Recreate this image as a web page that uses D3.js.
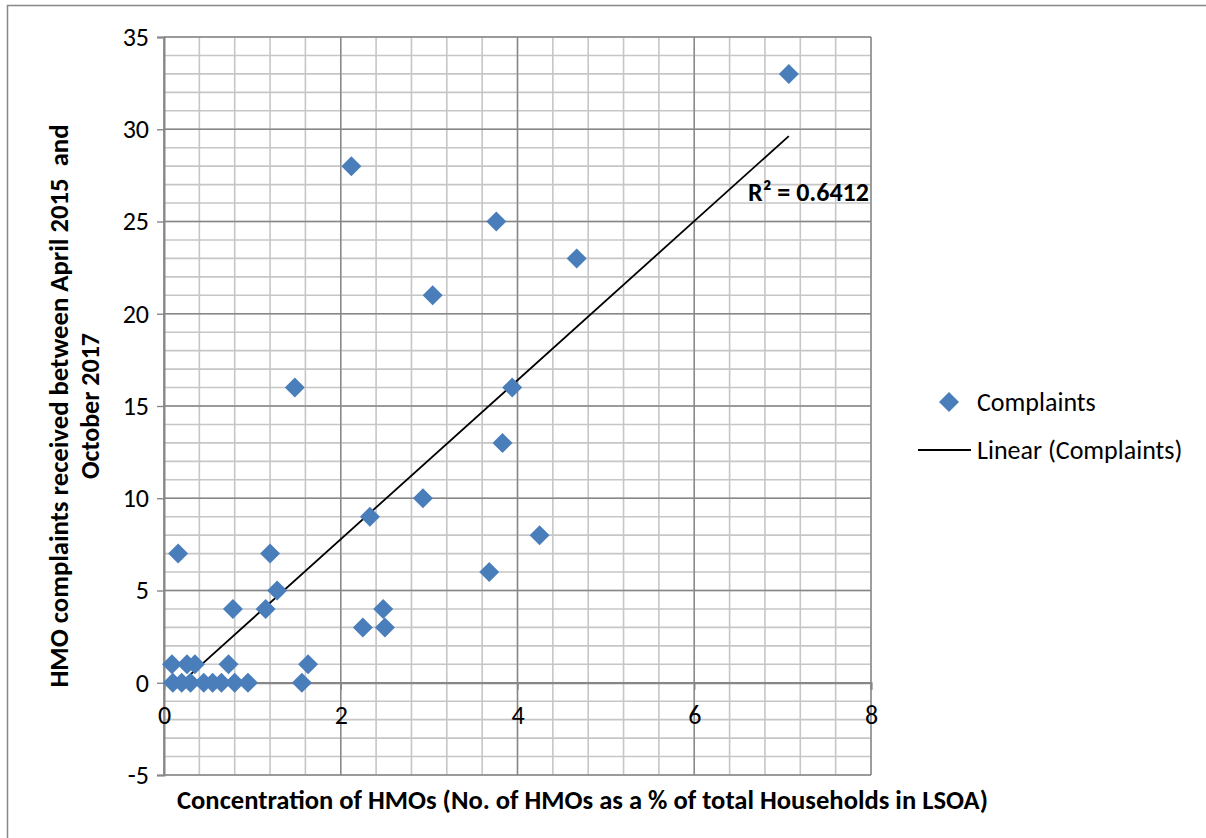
<!DOCTYPE html>
<html>
<head>
<meta charset="utf-8">
<script src="https://cdn.jsdelivr.net/npm/d3@7"></script>
<style>
  body { margin: 0; background: #fff; }
  text { font-family: Carlito, Calibri, "Open Sans", sans-serif; fill: #000; }
</style>
</head>
<body>
<svg id="chart" width="1206" height="838"></svg>
<script>
// share of HMOs in LSOA (%) and complaints received
var hmoShare = [7.07, 2.12, 3.76, 4.67, 3.04, 1.48, 3.94, 3.83, 2.93, 2.33,
  4.25, 0.16, 1.20, 3.68, 1.28, 0.78, 1.15, 2.48, 2.25, 2.50,
  0.09, 0.26, 0.35, 0.73, 1.63,
  0.10, 0.20, 0.30, 0.45, 0.55, 0.65, 0.80, 0.95, 1.56]
var complaints = [33, 28, 25, 23, 21, 16, 16, 13, 10, 9,
  8, 7, 7, 6, 5, 4, 4, 4, 3, 3,
  1, 1, 1, 1, 1,
  0, 0, 0, 0, 0, 0, 0, 0, 0]

// linear trendline as Excel drew it
var trendSlope = 4.31
var trendIntercept = -0.84
var rSquaredLabel = "R² = 0.6412"

var xTicks = [0, 2, 4, 6, 8]
var yTicks = [-5, 0, 5, 10, 15, 20, 25, 30, 35]
var seriesName = "Complaints"
var trendName = "Linear (Complaints)"
var xTitle = "Concentration of HMOs (No. of HMOs as a % of total Households in LSOA)"
var yTitle = ["HMO complaints received between April 2015  and", "October 2017"]

var svg = d3.select("#chart")
var plotL = 164, plotR = 871, plotT = 37, plotB = 775
var fs = 26
var plainNum = function (d) { return String(d) } // keep "-5" with a hyphen like Excel

var x = d3.scaleLinear().domain([0, 8]).range([plotL, plotR])
var y = d3.scaleLinear().domain([-5, 35]).range([plotB, plotT])

// outer chart border (runs off the right/bottom edge like the original)
svg.append("rect")
  .attr("x", 7.5).attr("y", 5.5)
  .attr("width", 1230).attr("height", 860)
  .attr("fill", "none").attr("stroke", "#878787").attr("stroke-width", 1.5)

// minor grid
var grid = svg.append("g")
grid.selectAll(".vMinor").data(d3.range(0, 8.001, 0.4))
  .enter().append("line")
  .attr("x1", function (d) { return x(d) }).attr("x2", function (d) { return x(d) })
  .attr("y1", plotT).attr("y2", plotB)
  .attr("stroke", "#c6c6c6").attr("stroke-width", 1.6)
grid.selectAll(".hMinor").data(d3.range(-5, 35.001, 1))
  .enter().append("line")
  .attr("x1", plotL).attr("x2", plotR)
  .attr("y1", function (d) { return y(d) }).attr("y2", function (d) { return y(d) })
  .attr("stroke", "#c6c6c6").attr("stroke-width", 1.6)

// major grid
grid.selectAll(".vMajor").data(xTicks)
  .enter().append("line")
  .attr("x1", function (d) { return x(d) }).attr("x2", function (d) { return x(d) })
  .attr("y1", plotT).attr("y2", plotB)
  .attr("stroke", "#878787").attr("stroke-width", 1.4)
grid.selectAll(".hMajor").data(yTicks)
  .enter().append("line")
  .attr("x1", plotL).attr("x2", plotR)
  .attr("y1", function (d) { return y(d) }).attr("y2", function (d) { return y(d) })
  .attr("stroke", "#878787").attr("stroke-width", 1.4)

// y axis on the left edge
var yAxis = svg.append("g")
  .attr("transform", "translate(" + plotL + ",0)")
  .call(d3.axisLeft(y).tickValues(yTicks).tickSize(7).tickPadding(8).tickFormat(plainNum))
yAxis.attr("font-size", fs).attr("font-family", null)
yAxis.select(".domain").attr("stroke", "#878787").attr("stroke-width", 2)
yAxis.selectAll(".tick line").attr("stroke", "#878787").attr("stroke-width", 1.4)

// x axis crossing at y = 0, labels sit below it
var xAxis = svg.append("g")
  .attr("transform", "translate(0," + y(0) + ")")
  .call(d3.axisBottom(x).tickValues(xTicks).tickSize(7).tickPadding(16).tickFormat(plainNum))
xAxis.attr("font-size", fs).attr("font-family", null)
xAxis.select(".domain").attr("stroke", "#878787").attr("stroke-width", 2)
xAxis.selectAll(".tick line").attr("stroke", "#878787").attr("stroke-width", 1.4)

// trendline between min and max x
var xExt = d3.extent(hmoShare)
svg.append("line")
  .attr("x1", x(xExt[0])).attr("y1", y(trendSlope * xExt[0] + trendIntercept))
  .attr("x2", x(xExt[1])).attr("y2", y(trendSlope * xExt[1] + trendIntercept))
  .attr("stroke", "#000").attr("stroke-width", 1.8)

// diamonds
var diamond = d3.symbol().type(d3.symbolSquare).size(200)
var pts = hmoShare.map(function (d, i) { return { x: d, y: complaints[i] } })
svg.selectAll(".pt").data(pts)
  .enter().append("path")
  .attr("class", "pt")
  .attr("d", diamond)
  .attr("transform", function (d) { return "translate(" + x(d.x) + "," + y(d.y) + ") rotate(45)" })
  .attr("fill", "#4a7ebb")

svg.append("text")
  .attr("x", 748).attr("y", 201)
  .attr("font-size", fs).attr("font-weight", "bold")
  .text(rSquaredLabel)

// axis titles
svg.append("text")
  .attr("x", (177 + 988) / 2).attr("y", 809)
  .attr("text-anchor", "middle")
  .attr("font-size", fs).attr("font-weight", "bold")
  .attr("textLength", 811).attr("lengthAdjust", "spacingAndGlyphs")
  .text(xTitle)

var yt = svg.append("text")
  .attr("transform", "translate(0,406) rotate(-90)")
  .attr("text-anchor", "middle")
  .attr("font-size", fs).attr("font-weight", "bold")
  .attr("xml:space", "preserve")
yt.append("tspan").attr("x", 0).attr("y", 68)
  .attr("textLength", 563).attr("lengthAdjust", "spacingAndGlyphs")
  .text(yTitle[0])
yt.append("tspan").attr("x", 0).attr("y", 99).text(yTitle[1])

// legend
var lg = svg.append("g")
lg.append("path")
  .attr("d", diamond)
  .attr("transform", "translate(949,402) rotate(45)")
  .attr("fill", "#4a7ebb")
lg.append("text").attr("x", 977).attr("y", 411).attr("font-size", fs).text(seriesName)
lg.append("line")
  .attr("x1", 918).attr("x2", 971).attr("y1", 450).attr("y2", 450)
  .attr("stroke", "#000").attr("stroke-width", 1.8)
lg.append("text").attr("x", 977).attr("y", 459).attr("font-size", fs).text(trendName)
</script>
</body>
</html>
